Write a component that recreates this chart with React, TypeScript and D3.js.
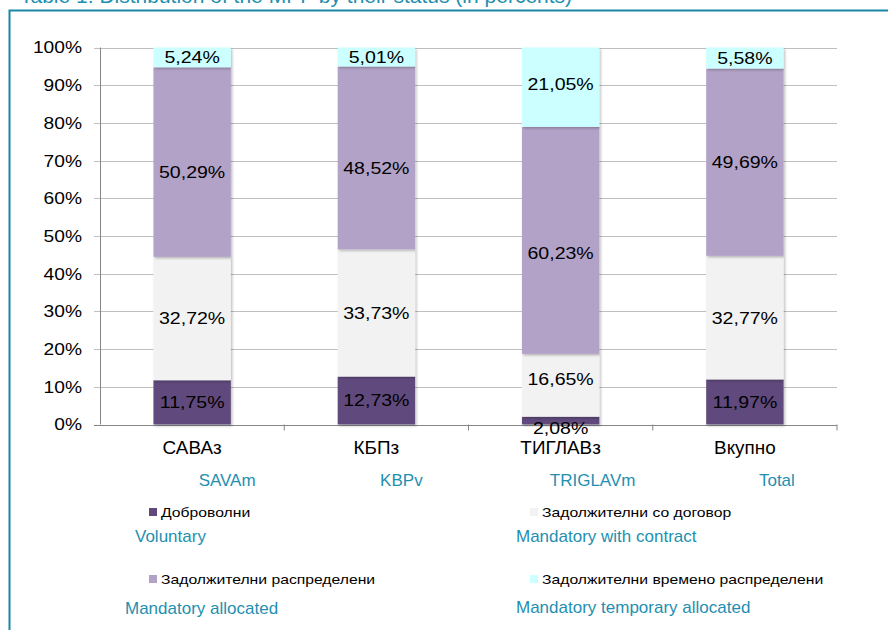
import { useMemo } from 'react';
import * as d3 from 'd3';

const categories = ['САВАз', 'КБПз', 'ТИГЛАВз', 'Вкупно'];
const categoriesEn = ['SAVAm', 'KBPv', 'TRIGLAVm', 'Total'];

const seriesNames = ['Доброволни', 'Задолжителни со договор', 'Задолжителни распределени', 'Задолжителни времено распределени'];
const seriesNamesEn = ['Voluntary', 'Mandatory with contract', 'Mandatory allocated', 'Mandatory temporary allocated'];

const voluntary = [11.75, 12.73, 2.08, 11.97];
const withContract = [32.72, 33.73, 16.65, 32.77];
const allocated = [50.29, 48.52, 60.23, 49.69];
const temporary = [5.24, 5.01, 21.05, 5.58];

const yTicks = [0, 10, 20, 30, 40, 50, 60, 70, 80, 90, 100];

const colors = ['#604a7b', '#f2f2f2', '#b3a2c7', '#ccffff'];
const teal = '#1f8fb0';
const font = 'Arial, "Liberation Sans", sans-serif';

const title = 'Table 1: Distribution of the MPF by their status (in percents)';

// small text helper with horizontal stretch (the source chart's text is wide)
const T = ({ x, y, s = 1, size, fill = '#000', anchor = 'start', children, ls = 0 }: any) => (
    <text transform={`translate(${x},${y}) scale(${s},1)`} dy="0.35em" textAnchor={anchor}
        fontFamily={font} fontSize={size} fill={fill} letterSpacing={ls}>{children}</text>
);

const App: React.FC = () => {
    const margin = { left: 100, right: 837, top: 47.5, bottom: 424.5 };

    const x = useMemo(() => d3.scaleBand<string>()
        .domain(categories)
        .range([margin.left, margin.right])
        .paddingInner(0.58)
        .paddingOuter(0.29), []);

    const y = useMemo(() => d3.scaleLinear().domain([0, 100]).range([margin.bottom, margin.top]), []);

    const stacked = useMemo(() => {
        const rows = categories.map((c, i) => ({
            cat: c,
            s0: voluntary[i],
            s1: withContract[i],
            s2: allocated[i],
            s3: temporary[i],
        }));
        return d3.stack<any>().keys(['s0', 's1', 's2', 's3'])(rows);
    }, []);

    const fmt = (v: number) => v.toFixed(2).replace('.', ',') + '%';
    const step = x.step();

    // label nudges, [series][category], as placed in the source
    const labelDy = [
        [0, 0, 0, 0],
        [0, 0, -6, 0],
        [10, 10, 13, 0],
        [0, 0, -3, 0],
    ];

    // legend layout: 2 x 2 grid
    const legendPos = [
        { sx: 149, sy: 508, ex: 135, ey: 536 },
        { sx: 530, sy: 508, ex: 516, ey: 536 },
        { sx: 149, sy: 575, ex: 125, ey: 608 },
        { sx: 530, sy: 575, ex: 516, ey: 607 },
    ];
    const enOffsets = [35, 25, 32, 32];

    return (
        <div style={{ position: 'fixed', left: 0, top: 0 }}>
            <svg width={888} height={630} style={{ display: 'block', background: '#fff' }}>
                <defs>
                    <filter id="shadow" x="-10%" y="-10%" width="130%" height="130%">
                        <feDropShadow dx="1.5" dy="1.5" stdDeviation="0.8" floodColor="#000" floodOpacity="0.25" />
                    </filter>
                </defs>
                <text x={20} y={3} fontFamily={font} fontSize={21} fill={teal}>{title}</text>
                <path d="M9.5,630 V10.5 H888" fill="none" stroke="#1a87a6" strokeWidth={2} />

                {/* gridlines */}
                {yTicks.map(t => (
                    <line key={t} x1={margin.left - 6} x2={margin.right} y1={Math.round(y(t)) + 0.5} y2={Math.round(y(t)) + 0.5}
                        stroke={t === 0 ? '#868686' : '#bfbfbf'} strokeWidth={1} />
                ))}
                {yTicks.map(t => (
                    <T key={'l' + t} x={margin.left - 18} y={y(t)} s={1.13} size={17} anchor="end">{t}%</T>
                ))}
                <line x1={margin.left + 0.5} x2={margin.left + 0.5} y1={margin.top} y2={margin.bottom} stroke="#868686" />

                {/* category tick marks */}
                {categories.map((c, i) => (
                    <line key={'t' + c} x1={margin.left + step * (i + 1)} x2={margin.left + step * (i + 1)}
                        y1={margin.bottom} y2={margin.bottom + 6} stroke="#868686" />
                ))}

                {/* bars */}
                {stacked.map((layer, si) => (
                    <g key={layer.key}>
                        {layer.map((d: any) => (
                            <rect key={d.data.cat} x={x(d.data.cat)} y={y(d[1])} width={x.bandwidth()}
                                height={y(d[0]) - y(d[1])} fill={colors[si]} filter="url(#shadow)" />
                        ))}
                    </g>
                ))}
                {stacked.map((layer, si) => (
                    <g key={'lab' + layer.key}>
                        {layer.map((d: any, ci: number) => {
                            const v = d[1] - d[0];
                            const cy = v < 4 ? y(d[0]) + 4 : (y(d[0]) + y(d[1])) / 2 + labelDy[si][ci];
                            return (
                                <T key={d.data.cat} x={x(d.data.cat)! + x.bandwidth() / 2} y={cy} s={1.15}
                                    size={17} anchor="middle">{fmt(v)}</T>
                            );
                        })}
                    </g>
                ))}

                {/* category labels */}
                {categories.map((c, i) => (
                    <g key={'c' + c}>
                        <T x={x(c)! + x.bandwidth() / 2} y={448} s={1.05} size={18} anchor="middle">{c}</T>
                        <T x={x(c)! + x.bandwidth() / 2 + enOffsets[i]} y={480} size={17} anchor="middle" fill={teal}>{categoriesEn[i]}</T>
                    </g>
                ))}

                {/* legend */}
                {seriesNames.map((n, i) => (
                    <g key={'lg' + i}>
                        <rect x={legendPos[i].sx} y={legendPos[i].sy} width={8} height={8} fill={colors[i]} />
                        <T x={legendPos[i].sx + 12} y={legendPos[i].sy + 4} s={1.21} size={13}>{n}</T>
                        <T x={legendPos[i].ex} y={legendPos[i].ey} size={17} fill={teal}>{seriesNamesEn[i]}</T>
                    </g>
                ))}
            </svg>
        </div>
    );
};

export default App;
